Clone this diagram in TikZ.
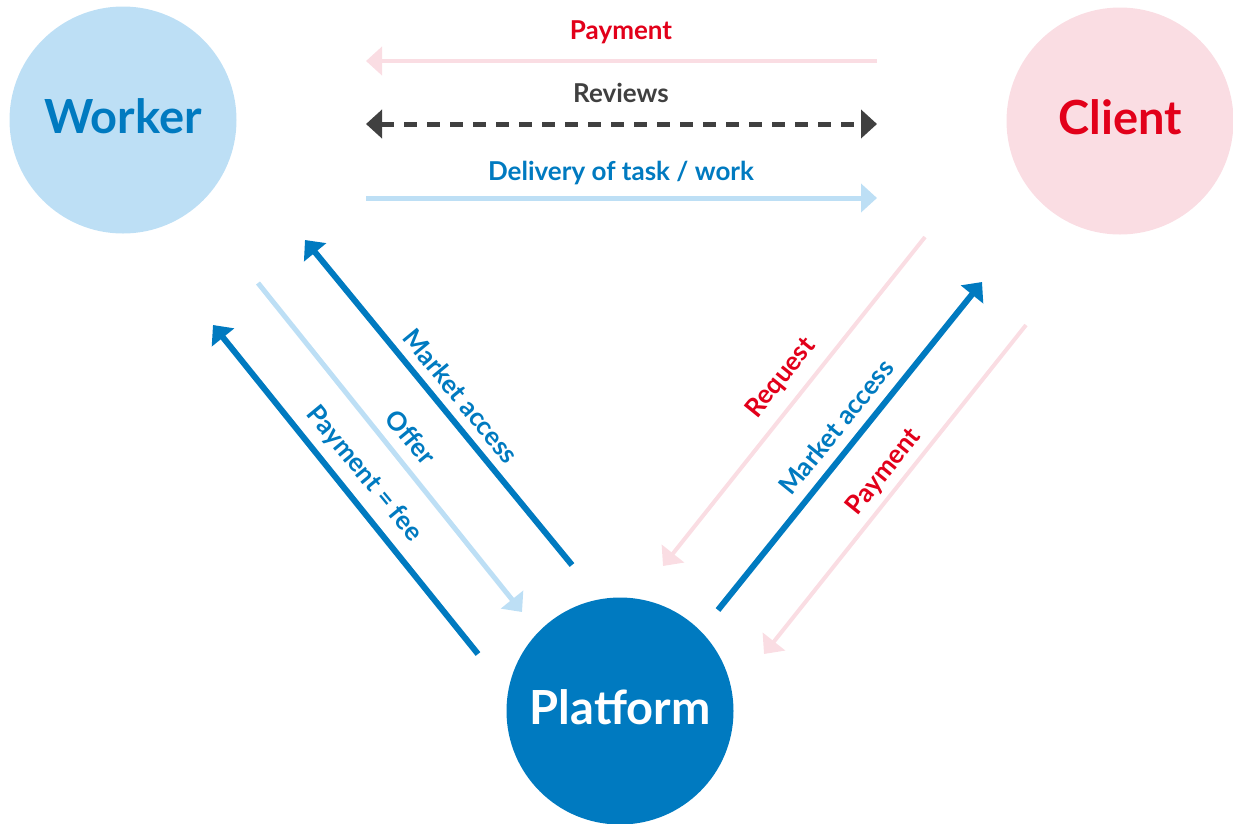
\documentclass[tikz,border=0pt]{standalone}
\usepackage{fontspec}
\setmainfont{Lato}
\usetikzlibrary{arrows.meta}
\definecolor{lblue}{HTML}{BDDFF5}
\definecolor{dblue}{HTML}{007AC0}
\definecolor{cred}{HTML}{E2001A}
\definecolor{lpink}{HTML}{FADDE3}
\definecolor{dgray}{HTML}{404040}
\tikzset{
  bigcirc/.style={circle, minimum size=227pt, inner sep=0pt, text depth=8pt, font=\fontsize{47}{50}\selectfont\bfseries},
  lbl/.style={font=\fontsize{26}{29}\selectfont\bfseries, inner sep=0pt},
  tip/.style={-{Triangle[length=16pt,width=28pt]}},
  lbarrow/.style={tip, draw=lblue, line width=5pt},
  dbarrow/.style={tip, draw=dblue, line width=6pt},
  pkarrow/.style={tip, draw=lpink, line width=4pt},
}
\begin{document}
\begin{tikzpicture}[x=1pt,y=-1pt]
\useasboundingbox (0,0) rectangle (1233,823);
\node[bigcirc, fill=lblue, text=dblue] (worker) at (123,120) {Worker};
\node[bigcirc, fill=lpink, text=cred] (client) at (1120,121) {Client};
\node[bigcirc, fill=dblue, text=white] (platform) at (620,711) {Platform};

% horizontal arrows
\coordinate (p1s) at (877,61);  \coordinate (p1e) at (366,61);
\coordinate (r1s) at (366,124); \coordinate (r1e) at (877,124);
\coordinate (d1s) at (366,198); \coordinate (d1e) at (877,198);
\draw[pkarrow] (p1s) -- (p1e);
\draw[draw=dgray, line width=5pt, dash pattern=on 13pt off 10pt,
  {Triangle[length=16pt,width=28pt]}-{Triangle[length=16pt,width=28pt]}] (r1s) -- (r1e);
\draw[lbarrow] (d1s) -- (d1e);
\node[lbl, text=cred] (lpay) at (621,32) {Payment};
\node[lbl, text=dgray] (lrev) at (621,93) {Reviews};
\node[lbl, text=dblue] (ldel) at (621,173) {Delivery of task / work};

% worker side
\coordinate (wma-s) at (572,565); \coordinate (wma-e) at (305,240);
\coordinate (wof-s) at (258,283); \coordinate (wof-e) at (522,612);
\coordinate (wpf-s) at (478,654); \coordinate (wpf-e) at (213,325);
\draw[dbarrow] (wma-s) -- (wma-e);
\draw[lbarrow] (wof-s) -- (wof-e);
\draw[dbarrow] (wpf-s) -- (wpf-e);
\node[lbl, text=dblue, rotate=-50.5] (lwma) at (461,396) {Market access};
\node[lbl, text=dblue, rotate=-50.5] (lwof) at (411,437) {Offer};
\node[lbl, text=dblue, rotate=-50.5] (lwpf) at (364,474) {Payment = fee};

% client side
\coordinate (crq-s) at (925,237); \coordinate (crq-e) at (663,566);
\coordinate (cma-s) at (718,610); \coordinate (cma-e) at (982,282);
\coordinate (cpy-s) at (1026,325); \coordinate (cpy-e) at (764,654);
\draw[pkarrow] (crq-s) -- (crq-e);
\draw[dbarrow] (cma-s) -- (cma-e);
\draw[pkarrow] (cpy-s) -- (cpy-e);
\node[lbl, text=cred, rotate=51] (lcrq) at (781,378) {Request};
\node[lbl, text=dblue, rotate=51] (lcma) at (836,427) {Market access};
\node[lbl, text=cred, rotate=51] (lcpy) at (884,472) {Payment};
\end{tikzpicture}
\end{document}
